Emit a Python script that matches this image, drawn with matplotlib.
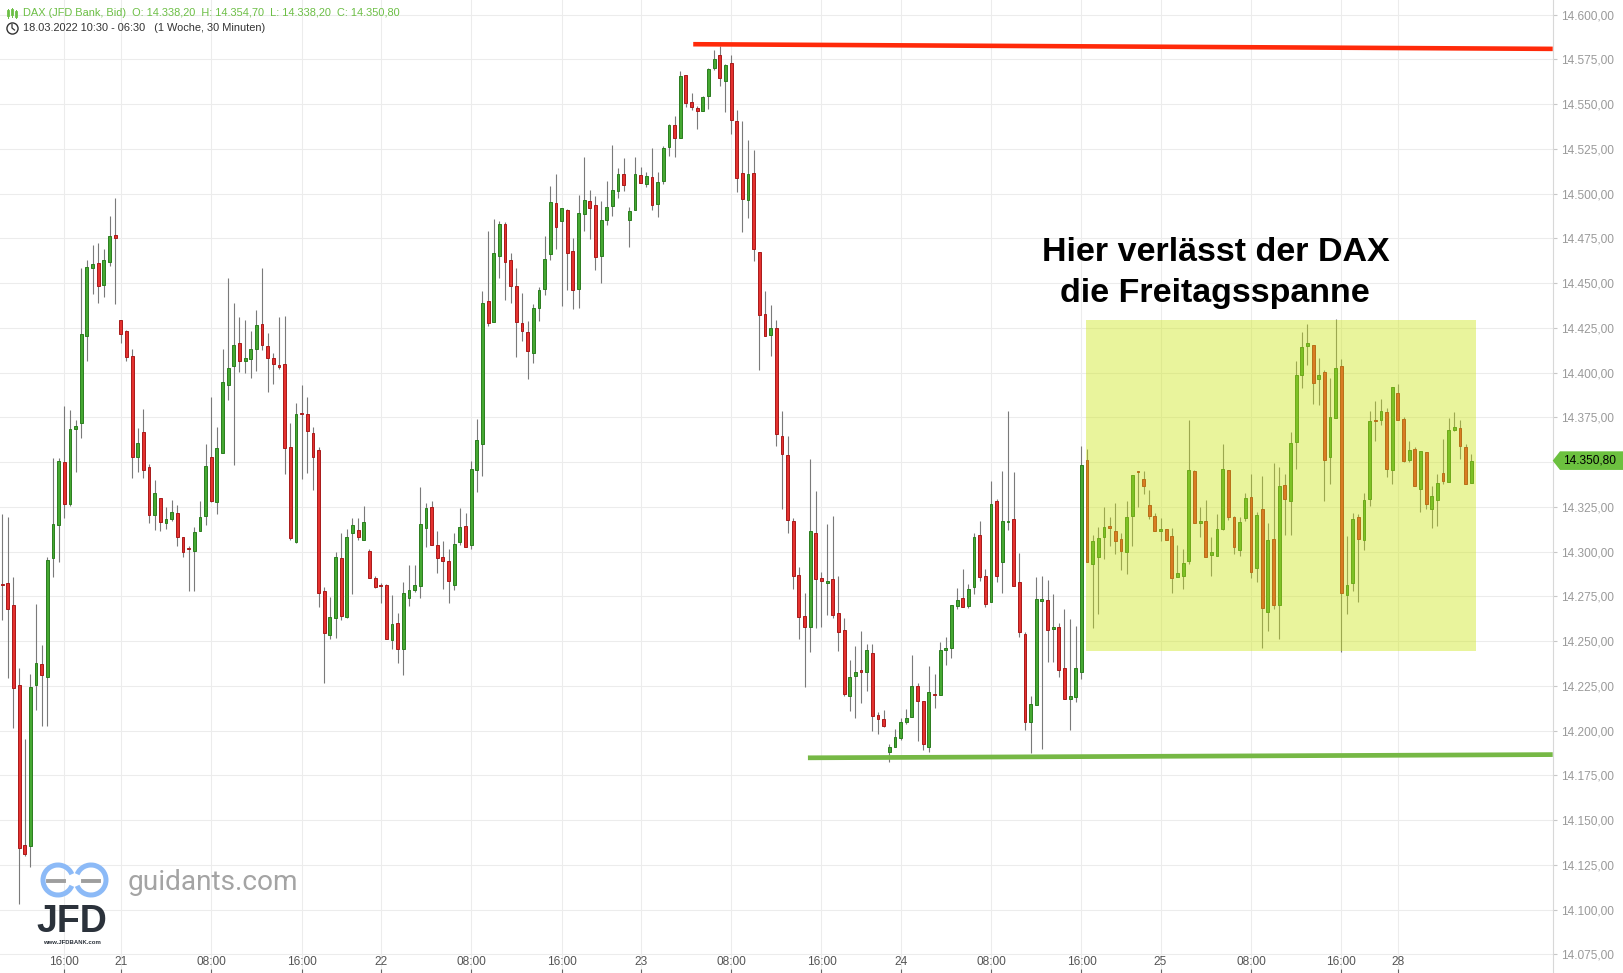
import matplotlib.pyplot as plt
from matplotlib.lines import Line2D
from matplotlib.patches import Rectangle, Polygon, Arc
from matplotlib.transforms import blended_transform_factory
import numpy as np

W, H = 1623, 973

# 30 minute candles, 18.03.2022 10:30 - 28.03.2022 06:30
opens = [
    14282.0, 14282.3, 14270.1, 14225.3, 14136.0, 14135.4, 14225.3, 14237.0, 14230.0, 14296.4,
    14314.6, 14350.0, 14326.8, 14368.2, 14371.9, 14420.3, 14458.3, 14461.2, 14448.7, 14461.7,
    14477.1, 14429.2, 14423.4, 14409.1, 14353.1, 14366.7, 14347.4, 14320.6, 14330.2, 14316.2,
    14318.0, 14321.4, 14308.3, 14301.8, 14300.5, 14311.7, 14319.8, 14352.6, 14327.9, 14354.9,
    14393.2, 14403.6, 14416.4, 14406.3, 14407.6, 14413.4, 14427.3, 14415.0, 14408.3, 14404.0,
    14405.0, 14358.6, 14305.3, 14377.2, 14377.0, 14366.4, 14356.9, 14278.1, 14253.5, 14263.0,
    14296.6, 14263.6, 14310.5, 14312.3, 14306.6, 14300.5, 14285.4, 14281.0, 14281.5, 14250.7,
    14260.2, 14245.7, 14274.2, 14278.7, 14280.9, 14313.3, 14325.1, 14303.6, 14297.1, 14294.9,
    14281.5, 14305.5, 14314.4, 14303.6, 14345.7, 14360.3, 14440.2, 14428.5, 14465.3, 14482.8,
    14462.8, 14448.3, 14427.4, 14422.4, 14411.0, 14436.2, 14446.8, 14466.0, 14494.5, 14484.5,
    14490.6, 14467.7, 14446.8, 14488.4, 14495.6, 14493.4, 14464.9, 14485.0, 14492.8, 14501.2,
    14510.7, 14485.0, 14490.6, 14510.2, 14505.1, 14509.0, 14494.0, 14506.8, 14525.8, 14538.1,
    14530.8, 14566.1, 14551.2, 14547.6, 14545.9, 14554.3, 14570.0, 14577.2, 14562.7, 14572.8,
    14540.3, 14511.7, 14496.2, 14511.3, 14467.6, 14432.9, 14420.9, 14425.0, 14364.4, 14354.1,
    14317.2, 14286.9, 14264.0, 14257.6, 14310.5, 14285.3, 14282.3, 14284.6, 14265.6, 14256.1,
    14219.6, 14230.7, 14234.0, 14233.0, 14243.2, 14208.6, 14206.3, 14188.3, 14190.9, 14196.0,
    14205.0, 14207.8, 14224.8, 14216.3, 14190.6, 14220.6, 14220.1, 14245.3, 14246.1, 14269.8,
    14273.8, 14269.8, 14280.2, 14309.2, 14286.1, 14271.7, 14328.2, 14294.3, 14316.4, 14318.2,
    14282.8, 14253.8, 14204.6, 14214.1, 14272.6, 14272.8, 14256.6, 14257.7, 14234.8, 14217.5,
    14218.6, 14232.6, 14351.0, 14292.9, 14296.8, 14308.0, 14314.3, 14311.3, 14306.9, 14299.6,
    14319.7, 14344.5, 14340.4, 14325.8, 14319.7, 14311.3, 14312.4, 14308.5, 14285.6, 14286.2,
    14294.6, 14344.8, 14315.8, 14316.9, 14297.9, 14297.4, 14312.4, 14345.4, 14319.3, 14300.7,
    14318.6, 14330.3, 14290.7, 14323.6, 14266.1, 14307.3, 14269.9, 14337.4, 14328.5, 14361.4,
    14398.8, 14414.6, 14415.5, 14396.5, 14400.4, 14353.0, 14374.8, 14403.8, 14276.0, 14282.7,
    14319.5, 14306.7, 14329.6, 14373.7, 14373.7, 14378.1, 14345.8, 14388.7, 14374.2, 14351.3,
    14357.5, 14335.2, 14355.8, 14324.0, 14329.0, 14344.1, 14339.1, 14368.1, 14369.2, 14358.6,
    14338.2,
]
highs = [
    14321.0, 14319.3, 14285.7, 14234.9, 14195.3, 14231.8, 14270.6, 14247.7, 14296.9, 14352.4,
    14352.4, 14381.3, 14379.2, 14373.4, 14458.3, 14463.0, 14471.4, 14472.1, 14469.0, 14487.2,
    14497.7, 14429.2, 14424.0, 14413.0, 14369.3, 14379.7, 14349.0, 14339.9, 14330.2, 14325.0,
    14328.9, 14325.8, 14308.3, 14303.1, 14313.6, 14328.1, 14360.2, 14386.5, 14369.5, 14413.3,
    14452.9, 14438.8, 14431.0, 14429.4, 14423.2, 14434.8, 14458.3, 14421.9, 14411.1, 14430.9,
    14431.4, 14371.6, 14382.8, 14392.9, 14386.2, 14369.4, 14358.2, 14280.2, 14274.9, 14299.5,
    14310.2, 14312.8, 14318.9, 14318.9, 14325.6, 14301.2, 14286.5, 14282.6, 14282.0, 14275.5,
    14265.8, 14283.1, 14292.6, 14292.6, 14335.9, 14327.3, 14328.4, 14311.7, 14305.9, 14301.6,
    14310.5, 14324.5, 14321.7, 14350.8, 14374.3, 14445.8, 14478.8, 14485.5, 14484.9, 14483.9,
    14466.8, 14458.4, 14444.4, 14428.8, 14438.3, 14447.8, 14476.3, 14504.2, 14510.9, 14491.7,
    14491.2, 14475.1, 14499.2, 14520.4, 14502.0, 14498.4, 14495.6, 14507.0, 14527.1, 14514.3,
    14519.9, 14492.3, 14520.4, 14514.8, 14512.0, 14525.4, 14512.0, 14526.6, 14538.9, 14543.3,
    14568.3, 14566.1, 14556.2, 14548.9, 14554.5, 14570.2, 14580.2, 14582.5, 14572.4, 14577.4,
    14546.7, 14540.7, 14529.9, 14524.3, 14467.6, 14445.8, 14437.8, 14429.1, 14378.8, 14364.7,
    14318.9, 14291.5, 14277.1, 14351.8, 14333.9, 14288.7, 14315.6, 14320.0, 14286.4, 14263.0,
    14239.4, 14247.1, 14255.8, 14248.4, 14248.4, 14210.4, 14211.4, 14192.4, 14201.1, 14206.8,
    14212.2, 14242.2, 14226.6, 14216.3, 14236.1, 14231.5, 14249.7, 14252.2, 14270.1, 14279.7,
    14290.0, 14282.0, 14310.5, 14317.2, 14290.5, 14339.2, 14329.5, 14345.2, 14378.8, 14344.4,
    14299.2, 14254.9, 14219.3, 14285.8, 14286.3, 14284.1, 14276.3, 14260.1, 14267.9, 14262.4,
    14258.4, 14359.0, 14357.1, 14309.1, 14313.7, 14324.9, 14319.3, 14327.1, 14310.2, 14328.3,
    14342.6, 14344.5, 14345.0, 14334.4, 14321.4, 14318.8, 14312.4, 14313.0, 14303.5, 14301.3,
    14373.3, 14345.6, 14324.9, 14328.8, 14308.0, 14321.0, 14360.1, 14345.4, 14319.9, 14319.1,
    14332.7, 14343.2, 14322.0, 14342.2, 14316.2, 14349.3, 14347.1, 14343.2, 14366.6, 14406.6,
    14422.8, 14426.9, 14415.5, 14408.3, 14401.6, 14397.1, 14430.0, 14407.7, 14308.6, 14321.8,
    14321.2, 14332.7, 14378.7, 14384.1, 14385.2, 14380.4, 14392.1, 14393.8, 14375.3, 14361.9,
    14358.6, 14356.4, 14355.8, 14336.8, 14343.5, 14363.1, 14374.8, 14378.1, 14373.7, 14360.3,
    14354.7,
]
lows = [
    14262.0, 14229.2, 14201.6, 14103.4, 14129.7, 14123.7, 14211.7, 14202.6, 14202.6, 14286.0,
    14294.3, 14319.0, 14325.5, 14344.5, 14363.3, 14406.3, 14443.8, 14438.8, 14442.2, 14459.4,
    14438.3, 14416.7, 14406.3, 14340.9, 14344.3, 14341.2, 14316.2, 14312.3, 14311.7, 14312.5,
    14317.2, 14302.9, 14296.9, 14278.1, 14278.1, 14311.7, 14315.1, 14327.6, 14321.1, 14354.9,
    14384.9, 14348.2, 14400.3, 14400.0, 14396.9, 14400.9, 14412.4, 14389.2, 14393.6, 14402.0,
    14343.3, 14306.6, 14304.8, 14340.5, 14343.9, 14334.4, 14269.0, 14226.7, 14251.1, 14251.7,
    14261.9, 14263.0, 14276.4, 14306.6, 14306.6, 14285.4, 14279.8, 14271.4, 14251.3, 14245.7,
    14237.9, 14231.2, 14269.7, 14277.6, 14274.2, 14302.5, 14303.6, 14288.2, 14279.2, 14271.4,
    14278.7, 14303.6, 14302.7, 14301.6, 14333.3, 14342.4, 14426.2, 14428.5, 14453.0, 14440.5,
    14439.0, 14408.8, 14417.6, 14396.5, 14405.1, 14428.9, 14443.3, 14463.0, 14469.2, 14437.1,
    14446.3, 14435.3, 14436.2, 14479.2, 14474.4, 14457.4, 14450.2, 14482.6, 14487.6, 14497.7,
    14501.6, 14470.3, 14490.6, 14505.7, 14503.5, 14490.8, 14487.1, 14505.1, 14521.2, 14520.6,
    14530.8, 14548.5, 14546.7, 14535.9, 14545.9, 14547.4, 14568.9, 14560.3, 14545.8, 14533.5,
    14501.0, 14478.7, 14486.5, 14462.5, 14401.6, 14420.4, 14409.1, 14358.8, 14323.6, 14310.2,
    14278.9, 14250.9, 14224.5, 14243.8, 14257.1, 14258.1, 14264.8, 14263.0, 14244.5, 14219.6,
    14211.2, 14206.8, 14215.5, 14221.9, 14199.6, 14198.0, 14201.9, 14182.7, 14190.9, 14195.0,
    14203.7, 14207.8, 14194.2, 14189.0, 14188.3, 14212.4, 14220.1, 14236.9, 14240.4, 14268.1,
    14269.3, 14268.4, 14276.4, 14283.3, 14268.9, 14271.7, 14283.0, 14276.6, 14312.3, 14281.0,
    14252.5, 14200.5, 14187.3, 14214.1, 14189.9, 14238.5, 14238.5, 14230.1, 14217.5, 14200.5,
    14216.2, 14228.6, 14294.0, 14257.5, 14265.0, 14296.0, 14302.9, 14298.5, 14289.5, 14287.3,
    14303.3, 14325.1, 14332.0, 14318.2, 14311.3, 14306.1, 14306.3, 14277.1, 14285.6, 14279.3,
    14292.9, 14315.8, 14308.0, 14296.8, 14286.6, 14297.4, 14311.9, 14317.5, 14298.5, 14297.7,
    14316.9, 14285.4, 14282.8, 14246.0, 14255.5, 14268.2, 14251.3, 14309.5, 14309.5, 14346.3,
    14391.5, 14404.4, 14382.6, 14381.8, 14328.5, 14338.0, 14374.8, 14244.0, 14265.4, 14278.2,
    14271.9, 14301.1, 14325.7, 14361.9, 14370.9, 14341.9, 14338.0, 14373.7, 14350.2, 14350.2,
    14336.8, 14322.3, 14324.0, 14313.4, 14314.5, 14338.0, 14339.1, 14367.5, 14351.9, 14338.0,
    14338.2,
]
closes = [
    14281.5, 14268.2, 14224.0, 14134.7, 14131.3, 14224.5, 14237.5, 14231.3, 14295.3, 14315.6,
    14350.5, 14326.3, 14368.2, 14370.3, 14421.4, 14459.1, 14460.7, 14448.2, 14462.8, 14476.3,
    14475.3, 14421.4, 14408.6, 14353.1, 14360.9, 14345.3, 14320.6, 14332.6, 14316.7, 14318.0,
    14321.9, 14308.3, 14299.5, 14301.2, 14311.2, 14319.3, 14347.9, 14328.4, 14357.6, 14394.5,
    14402.3, 14415.6, 14406.5, 14408.0, 14413.0, 14426.8, 14415.6, 14408.3, 14405.0, 14403.3,
    14358.0, 14307.6, 14377.0, 14376.8, 14367.5, 14353.0, 14277.0, 14254.6, 14263.6, 14297.1,
    14264.1, 14308.3, 14315.0, 14308.3, 14316.7, 14285.4, 14280.4, 14280.9, 14251.3, 14259.7,
    14245.7, 14277.0, 14278.7, 14281.5, 14315.6, 14324.5, 14303.6, 14296.6, 14294.9, 14283.7,
    14304.4, 14313.9, 14302.7, 14346.3, 14362.5, 14439.1, 14427.9, 14467.0, 14483.2, 14461.9,
    14448.5, 14428.4, 14423.4, 14412.2, 14435.8, 14445.9, 14463.2, 14495.1, 14481.5, 14491.7,
    14466.9, 14445.9, 14488.9, 14496.2, 14491.7, 14464.3, 14485.0, 14492.3, 14501.8, 14510.7,
    14504.6, 14490.0, 14510.7, 14505.7, 14509.6, 14493.4, 14506.3, 14525.3, 14538.1, 14530.8,
    14565.7, 14550.4, 14548.2, 14545.9, 14553.8, 14569.4, 14575.4, 14564.4, 14571.6, 14540.9,
    14508.5, 14497.1, 14510.7, 14468.8, 14431.9, 14420.4, 14425.0, 14365.4, 14354.4, 14317.4,
    14286.1, 14263.3, 14258.1, 14311.5, 14284.6, 14283.3, 14283.6, 14264.3, 14255.3, 14220.2,
    14230.2, 14232.7, 14232.5, 14245.3, 14208.3, 14206.3, 14202.7, 14191.1, 14196.3, 14205.0,
    14207.3, 14224.8, 14216.8, 14192.6, 14221.4, 14220.1, 14245.3, 14246.1, 14270.1, 14272.8,
    14269.3, 14279.0, 14308.4, 14285.9, 14270.7, 14326.4, 14286.6, 14317.2, 14317.2, 14281.0,
    14254.9, 14204.6, 14214.7, 14273.7, 14273.4, 14256.0, 14257.7, 14233.7, 14217.8, 14219.2,
    14234.8, 14348.2, 14294.0, 14305.7, 14307.4, 14313.7, 14313.0, 14305.7, 14300.1, 14319.3,
    14342.6, 14344.2, 14336.5, 14319.7, 14311.3, 14312.4, 14306.3, 14285.1, 14287.9, 14293.4,
    14345.4, 14315.8, 14316.9, 14296.8, 14299.6, 14312.4, 14346.0, 14319.1, 14302.4, 14316.3,
    14329.8, 14288.4, 14320.3, 14268.3, 14306.3, 14270.4, 14336.8, 14329.6, 14360.8, 14398.8,
    14414.4, 14416.6, 14394.3, 14398.8, 14351.3, 14375.3, 14402.7, 14276.6, 14281.6, 14318.4,
    14307.3, 14329.0, 14373.1, 14373.1, 14378.7, 14346.3, 14392.1, 14373.7, 14350.8, 14356.9,
    14336.8, 14356.4, 14326.8, 14331.3, 14338.5, 14339.6, 14368.1, 14369.8, 14359.2, 14338.0,
    14350.8,
]

tick_pos = [11, 21, 37, 53, 67, 83, 99, 113, 129, 145, 159, 175, 191, 205, 221, 237, 247]
tick_labels = ['16:00', '21', '08:00', '16:00', '22', '08:00', '16:00', '23', '08:00',
               '16:00', '24', '08:00', '16:00', '25', '08:00', '16:00', '28']

# Friday range (candle index / price)
box_x = [191.8, 260.9]
box_y = [14244.3, 14429.1]
resist_x = [122.3, 274.4]
resist_y = [14583.4, 14580.8]
support_x = [142.6, 274.4]
support_y = [14184.8, 14186.6]

assert len(opens) == len(highs) == len(lows) == len(closes) == 261


def de(v):
    return f"{v:,.2f}".replace(',', '#').replace('.', ',').replace('#', '.')


def fx(px):
    return px / W


def fy(py):
    return 1 - py / H


plt.rcParams['font.family'] = ['Liberation Sans', 'DejaVu Sans']

fig = plt.figure(figsize=(W / 100, H / 100), dpi=100)
ax = fig.add_axes([0, 0, 1552.7 / W, 1])
ax.set_xlim(-0.38, 274.4)
ax.set_ylim(14064.6, 14608.1)

# grid
ax.set_yticks(np.arange(14075, 14601, 25))
ax.set_yticklabels([de(v) for v in np.arange(14075, 14601, 25)])
ax.set_xticks(tick_pos)
ax.set_xticklabels(tick_labels)
ax.grid(True, color='#ececec', lw=0.75)
ax.set_axisbelow(True)

# candles
o = np.array(opens)
h = np.array(highs)
l = np.array(lows)
c = np.array(closes)
x = np.arange(len(o))
up = c >= o
ax.vlines(x, l, h, color='#7a7a7a', lw=0.8, zorder=2)
bot = np.minimum(o, c)
hgt = np.maximum(np.abs(c - o), 0.6)
ax.bar(x[up], hgt[up], bottom=bot[up], width=0.5, color='#45a832',
       edgecolor='#2b7d1f', lw=0.7, zorder=3)
ax.bar(x[~up], hgt[~up], bottom=bot[~up], width=0.5, color='#e4312f',
       edgecolor='#a81a1a', lw=0.7, zorder=3)

# Friday range box (drawn on top, translucent)
ax.add_patch(Rectangle((box_x[0], box_y[0]), box_x[1] - box_x[0], box_y[1] - box_y[0],
                       facecolor=(0.80, 0.90, 0.08), alpha=0.42, lw=0, zorder=4))

# resistance / support lines
ax.plot(resist_x, resist_y, color='#ff2a0a', lw=3.3, solid_capstyle='butt', zorder=5)
ax.plot(support_x, support_y, color='#76b845', lw=3.4, solid_capstyle='butt', zorder=5)

ax.text(214.7, 14467.0, 'Hier verlässt der DAX', ha='center', va='center',
        fontsize=24.5, fontweight='bold', color='black', zorder=6)
ax.text(214.7, 14444.2, 'die Freitagsspanne', ha='center', va='center',
        fontsize=24.5, fontweight='bold', color='black', zorder=6)

# axes styling
for s in ['left', 'top', 'bottom']:
    ax.spines[s].set_visible(False)
ax.spines['right'].set_color('#d8d8d8')
ax.spines['right'].set_linewidth(0.8)
ax.tick_params(axis='y', left=False, right=True, labelleft=False, labelright=True,
               length=3, width=0.8, color='#c8c8c8', labelcolor='#9a9a9a',
               labelsize=8.6, pad=3)
ax.tick_params(axis='x', direction='in', length=3, width=0.8, color='#666666',
               labelcolor='#555555', labelsize=8.6, pad=-12)

# last price tag
trans = blended_transform_factory(fig.transFigure, ax.transData)
last = closes[-1]
tag = Polygon([(fx(1552.7), last), (fx(1560), last + 5.2), (1.0, last + 5.2),
               (1.0, last - 5.2), (fx(1560), last - 5.2)], closed=True,
              facecolor='#6cc13f', edgecolor='none', transform=trans, zorder=2)
fig.add_artist(tag)
fig.text(fx(1563), last, de(last), transform=trans, fontsize=8.6, color='black',
         va='center', ha='left', zorder=3)

# header
hdr = (f"DAX (JFD Bank, Bid)  O: {de(opens[-1])}  H: {de(highs[-1])}  "
       f"L: {de(lows[-1])}  C: {de(closes[-1])}")
fig.text(fx(23), fy(13), hdr, color='#6cbf45', fontsize=7.9, va='center', ha='left')
fig.text(fx(23), fy(28), '18.03.2022 10:30 - 06:30   (1 Woche, 30 Minuten)',
         color='#333333', fontsize=7.9, va='center', ha='left')
# small candle icon
for px_, y0, y1, b0, b1 in [(8, 9, 18, 11, 15), (12, 8, 17, 10, 14), (16, 10, 18, 12, 16)]:
    fig.add_artist(Line2D([fx(px_), fx(px_)], [fy(y0), fy(y1)], color='#6cbf45', lw=0.7))
    fig.add_artist(Line2D([fx(px_), fx(px_)], [fy(b0), fy(b1)], color='#6cbf45', lw=2.0))
# clock icon
fig.add_artist(Line2D([fx(12)], [fy(28)], marker='o', ms=8, mfc='none', mec='#333333',
                      mew=1.0))
fig.add_artist(Line2D([fx(12), fx(12), fx(14.5)], [fy(24.5), fy(28), fy(30)],
                      color='#333333', lw=0.9))

# watermark
fig.add_artist(Arc((fx(58), fy(880)), 30 / W, 30 / H, theta1=35, theta2=325,
                   transform=fig.transFigure, color='#8cbaf7', lw=3.6, zorder=5))
fig.add_artist(Arc((fx(91), fy(880)), 30 / W, 30 / H, theta1=215, theta2=145,
                   transform=fig.transFigure, color='#8cbaf7', lw=3.6, zorder=5))
fig.add_artist(Line2D([fx(48), fx(64)], [fy(881), fy(881)], color='#9e9e9e', lw=2.8, zorder=5))
fig.add_artist(Line2D([fx(83), fx(99)], [fy(881), fy(881)], color='#9e9e9e', lw=2.8, zorder=5))
fig.text(fx(72), fy(922), 'JFD', fontsize=27, fontweight='bold', color='#2b323b',
         ha='center', va='center', zorder=5)
fig.text(fx(72), fy(942), 'www.JFDBANK.com', fontsize=4.3, fontweight='bold',
         color='#2b323b', ha='center', va='center', zorder=5)
fig.text(fx(128), fy(890), 'guidants.com', fontsize=20.2, color='#a4a4a4',
         family=['Roboto', 'DejaVu Sans'], ha='left', va='baseline', zorder=5)

fig.savefig('out.png', dpi=100)
